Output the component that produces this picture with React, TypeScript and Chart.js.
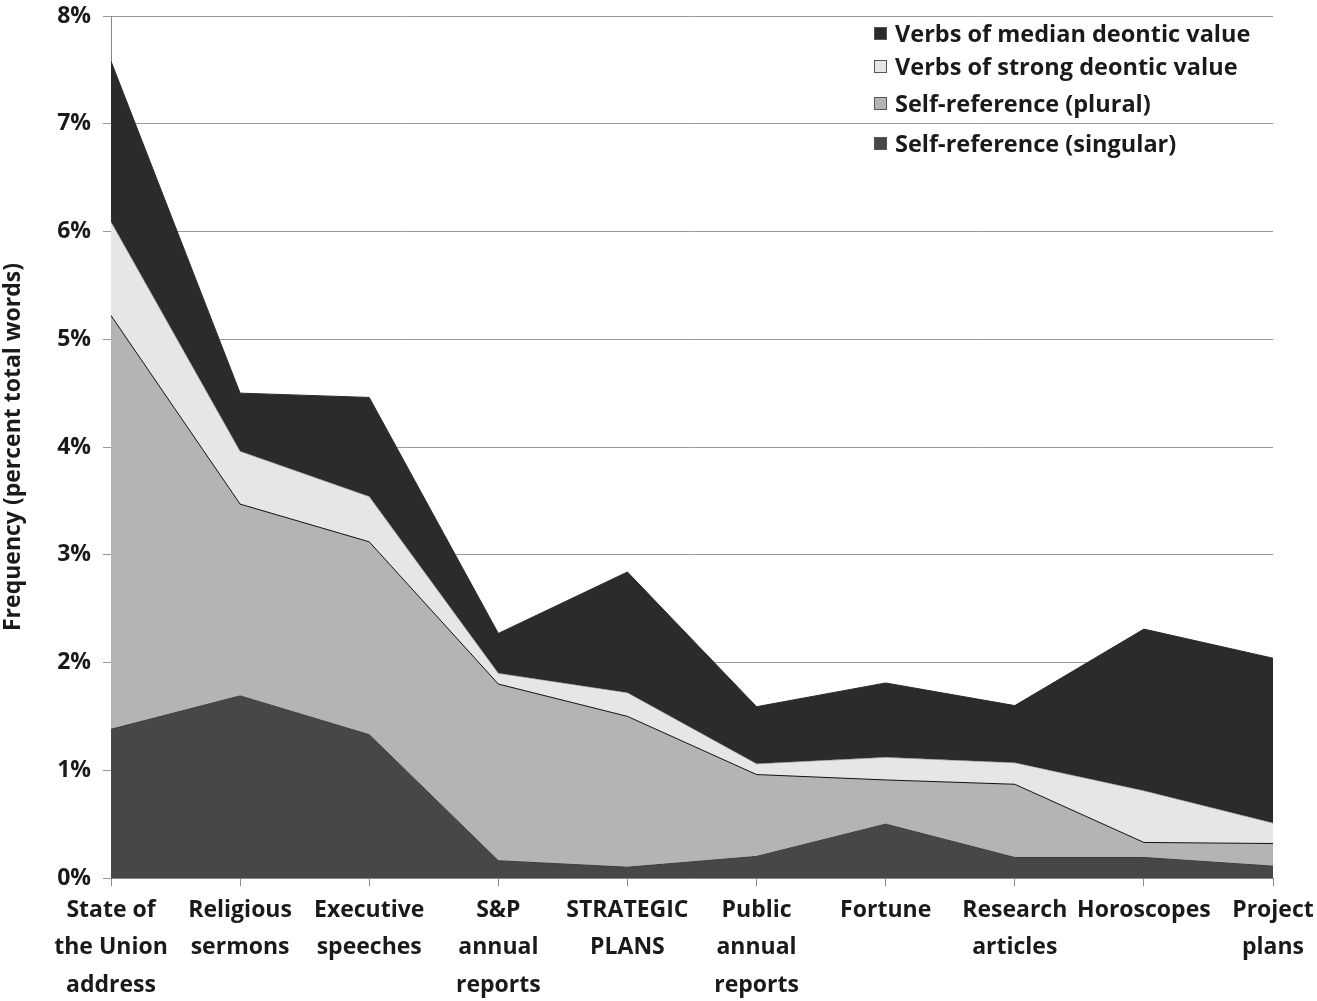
import { useEffect, useRef } from "react";
import Chart from "chart.js/auto";

const CATEGORIES: string[][] = [
    ["State of", "the Union", "address"],
    ["Religious", "sermons"],
    ["Executive", "speeches"],
    ["S&P", "annual", "reports"],
    ["STRATEGIC", "PLANS"],
    ["Public", "annual", "reports"],
    ["Fortune"],
    ["Research", "articles"],
    ["Horoscopes"],
    ["Project", "plans"],
];

// values in percent of total words, stacked bottom to top
const SELF_SINGULAR = [1.38, 1.69, 1.33, 0.16, 0.10, 0.20, 0.50, 0.19, 0.19, 0.11];
const SELF_PLURAL = [3.84, 1.78, 1.79, 1.64, 1.40, 0.76, 0.41, 0.68, 0.14, 0.21];
const VERBS_STRONG = [0.87, 0.49, 0.42, 0.10, 0.22, 0.10, 0.21, 0.20, 0.48, 0.19];
const VERBS_MEDIAN = [1.49, 0.54, 0.92, 0.37, 1.12, 0.53, 0.69, 0.53, 1.50, 1.53];

const Y_TICKS = [0, 1, 2, 3, 4, 5, 6, 7, 8];

const FONT = "'Open Sans', Lato, sans-serif";

const LEGEND_ROWS = [34, 67, 104, 144];

const legendInside = {
    id: "legendInside",
    afterDraw(chart: any) {
        const ctx = chart.ctx;
        const items = [...chart.data.datasets].reverse();
        ctx.save();
        ctx.font = `bold 23.5px ${FONT}`;
        ctx.textBaseline = "middle";
        ctx.textAlign = "left";
        items.forEach((ds: any, i: number) => {
            const y = LEGEND_ROWS[i];
            ctx.fillStyle = ds.backgroundColor;
            ctx.fillRect(874, y - 7, 13, 13);
            ctx.strokeStyle = "#555";
            ctx.lineWidth = 1;
            ctx.strokeRect(874.5, y - 6.5, 12, 12);
            ctx.fillStyle = "#1a1a1a";
            ctx.fillText(ds.label, 895, y + 1);
        });
        ctx.restore();
    },
};

export default function App() {
    const canvasRef = useRef<HTMLCanvasElement>(null);
    const chartRef = useRef<Chart | null>(null);

    useEffect(() => {
        if (!canvasRef.current) return;
        document.body.style.margin = "0";
        if (chartRef.current) chartRef.current.destroy();

        chartRef.current = new Chart(canvasRef.current, {
            type: "line",
            data: {
                labels: CATEGORIES,
                datasets: [
                    {
                        label: "Self-reference (singular)",
                        data: SELF_SINGULAR,
                        backgroundColor: "#474747",
                        borderColor: "#3a3a3a",
                        borderWidth: 1,
                        fill: "origin",
                        pointRadius: 0,
                    },
                    {
                        label: "Self-reference (plural)",
                        data: SELF_PLURAL,
                        backgroundColor: "#b4b4b4",
                        borderColor: "#111",
                        borderWidth: 1,
                        fill: "-1",
                        pointRadius: 0,
                    },
                    {
                        label: "Verbs of strong deontic value",
                        data: VERBS_STRONG,
                        backgroundColor: "#e6e6e6",
                        borderColor: "#555",
                        borderWidth: 0.5,
                        fill: "-1",
                        pointRadius: 0,
                    },
                    {
                        label: "Verbs of median deontic value",
                        data: VERBS_MEDIAN,
                        backgroundColor: "#2b2b2b",
                        borderColor: "#2b2b2b",
                        borderWidth: 1,
                        fill: "-1",
                        pointRadius: 0,
                    },
                ],
            },
            options: {
                animation: false,
                responsive: false,
                maintainAspectRatio: false,
                layout: { padding: { top: 16, right: 44, left: 0, bottom: 0 } },
                plugins: {
                    legend: { display: false },
                    tooltip: { enabled: false },
                },
                elements: { line: { tension: 0 } },
                scales: {
                    x: {
                        offset: false,
                        grid: {
                            drawOnChartArea: false,
                            drawTicks: true,
                            tickLength: 8,
                            color: "#888",
                        },
                        border: { color: "#888", width: 1 },
                        ticks: {
                            color: "#1a1a1a",
                            font: { family: FONT, size: 23, weight: "bold", lineHeight: 1.62 },
                            maxRotation: 0,
                            autoSkip: false,
                            padding: 6,
                        },
                        afterFit: (scale: any) => {
                            scale.height = 123;
                            scale.paddingLeft = 0;
                            scale.paddingRight = 0;
                        },
                    },
                    y: {
                        stacked: true,
                        min: 0,
                        max: 8,
                        afterBuildTicks: (scale: any) => {
                            scale.ticks = Y_TICKS.map(v => ({ value: v }));
                        },
                        grid: { color: "#999", tickLength: 8, lineWidth: 1 },
                        border: { color: "#888", width: 1 },
                        ticks: {
                            color: "#1a1a1a",
                            font: { family: FONT, size: 23, weight: "bold", lineHeight: 1.2 },
                            padding: 12,
                            callback: (v: any) => `${v}%`,
                        },
                        title: {
                            display: true,
                            text: "Frequency (percent total words)",
                            color: "#1a1a1a",
                            font: { family: FONT, size: 23, weight: "bold" },
                            padding: { top: 0, bottom: 0 },
                        },
                        afterFit: (scale: any) => {
                            scale.width = 111;
                            scale.paddingTop = 0;
                            scale.paddingBottom = 0;
                        },
                    },
                },
            },
            plugins: [legendInside],
        });

        return () => {
            if (chartRef.current) chartRef.current.destroy();
        };
    }, []);

    return (
        <div style={{ width: 1317, height: 1001, position: "relative" }}>
            <canvas ref={canvasRef} width={1317} height={1001} style={{ width: 1317, height: 1001 }}></canvas>
        </div>
    );
}
